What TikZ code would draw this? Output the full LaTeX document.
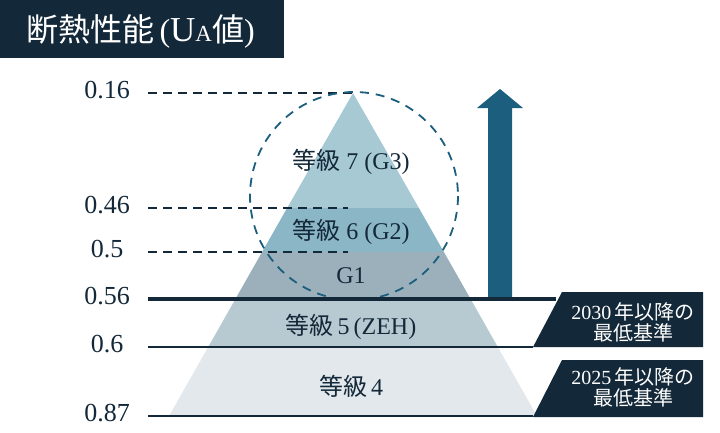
\documentclass[tikz,border=0pt]{standalone}
\usepackage{fontspec}
\setmainfont{Liberation Serif}
\newfontfamily\jpfont{Noto Sans CJK JP}
\newcommand{\jp}[1]{{\jpfont #1}}
\usepackage{tikz}
\definecolor{navy}{RGB}{19,40,57}
\definecolor{deepblue}{RGB}{27,94,126}
\definecolor{lvseven}{RGB}{166,201,212}
\definecolor{lvsix}{RGB}{138,182,198}
\definecolor{lvone}{RGB}{155,176,186}
\definecolor{lvfive}{RGB}{184,202,209}
\definecolor{lvfour}{RGB}{226,232,235}

\begin{document}
\begin{tikzpicture}[x=1pt,y=-1pt,inner sep=0pt]
\tikzstyle{val}=[text=navy, font=\fontsize{26}{26}\selectfont]
\tikzstyle{grade}=[text=navy, font=\fontsize{24}{24}\selectfont]
\tikzstyle{note}=[text=white, align=center, font=\fontsize{20}{21}\selectfont]
\tikzstyle{dashln}=[navy, line width=1.8pt, dash pattern=on 9pt off 6pt]
\tikzstyle{solidln}=[navy, line width=2.5pt]
\tikzstyle{ring}=[deepblue, line width=1.8pt, dash pattern=on 9pt off 7pt]
\useasboundingbox (0,0) rectangle (720,432);
% title
\fill[navy] (0,0) rectangle (284,58);
\node[text=white, font=\fontsize{32}{32}\selectfont] (ttl) at (140.5,31) {\jp{断熱性能}\,({\fontsize{35}{35}\selectfont U}{\fontsize{23}{23}\selectfont A}\jp{値})};
% pyramid
\coordinate (apex) at (353,93);
\fill[lvseven] (apex) -- (287.1,208) -- (418.9,208) -- cycle;
\fill[lvsix] (287.1,208) -- (262.1,252) -- (443.9,252) -- (418.9,208) -- cycle;
\fill[lvone] (262.1,252) -- (235.4,299) -- (470.6,299) -- (443.9,252) -- cycle;
\fill[lvfive] (235.4,299) -- (208.2,347) -- (497.8,347) -- (470.6,299) -- cycle;
\fill[lvfour] (208.2,347) -- (169,416) -- (537,416) -- (497.8,347) -- cycle;
% values
\node[val] (v016) at (107,90.5) {0.16};
\node[val] (v046) at (107,205.5) {0.46};
\node[val] (v050) at (107,249.5) {0.5};
\node[val] (v056) at (107,296.5) {0.56};
\node[val] (v060) at (107,344.5) {0.6};
\node[val] (v087) at (107,413.5) {0.87};
\coordinate (s016) at (148,93);
\coordinate (s046) at (148,208);
\coordinate (s050) at (148,252);
\coordinate (s056) at (148,299);
\coordinate (s060) at (148,347);
\coordinate (s087) at (148,416);
\coordinate (e046) at (348,208);
\coordinate (e050) at (348,252);
\coordinate (e056) at (556,299);
\draw[dashln] (s016) -- (apex);
\draw[dashln] (s046) -- (e046);
\draw[dashln] (s050) -- (e050);
% circle
\coordinate (mid) at (354,196);
\draw[ring] (mid) circle[radius=104];
% arrow
\fill[deepblue] (488,299) -- (488,108) -- (477,108) -- (500,89) -- (523,108) -- (512,108) -- (512,299) -- cycle;
% notes
\coordinate (c2030) at (533,347);
\coordinate (c2025) at (533,417);
\fill[navy] (c2030) -- (562,292) -- (703,292) -- (703,347) -- cycle;
\fill[navy] (c2025) -- (562,360) -- (703,360) -- (703,417) -- cycle;
\draw[solidln, line width=3.5pt] (s056) -- (e056);
\draw[solidln] (s060) -- (c2030);
\draw[solidln] (s087) -- (c2025 |- s087);
\node[note] (n2030) at (633,322) {2030\,\jp{年以降の}\\\jp{最低基準}};
\node[note] (n2025) at (633,387.5) {2025\,\jp{年以降の}\\\jp{最低基準}};
% grades
\node[grade] (g7) at (351,162) {\jp{等級} 7 (G3)};
\node[grade] (g6) at (351,232) {\jp{等級} 6 (G2)};
\node[grade] (g1) at (351,276) {G1};
\node[grade] (g5) at (351,327) {\jp{等級}\,5\,(ZEH)};
\node[grade] (g4) at (351,386) {\jp{等級}\,4};
\end{tikzpicture}
\end{document}
